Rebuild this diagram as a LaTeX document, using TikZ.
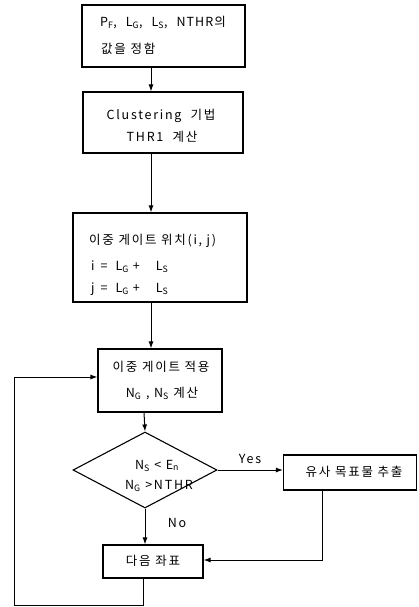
\documentclass[tikz,border=0pt]{standalone}
\usepackage{fontspec}
\newfontfamily\kr[LetterSpace=14]{Noto Sans CJK KR}
\usetikzlibrary{arrows.meta,shapes.geometric}
\begin{document}
\begin{tikzpicture}[x=1pt,y=-1pt,
  box/.style={draw,line width=1.1pt,inner sep=0pt,rectangle},
  txt/.style={inner sep=0pt,font=\kr\fontsize{12.5}{14}\selectfont},
  conn/.style={line width=1pt,-{Latex[length=7pt,width=5pt]}},
  plain/.style={line width=0.9pt}]
\useasboundingbox (0,0) rectangle (418,607);
% boxes
\node[box,minimum width=163pt,minimum height=62pt] (b1) at (163.5,36) {};
\node[box,minimum width=160pt,minimum height=61pt] (b2) at (163,122.5) {};
\node[box,minimum width=174pt,minimum height=89pt] (b3) at (160,257.5) {};
\node[box,minimum width=124pt,minimum height=63pt] (b4) at (160,380.5) {};
\node[draw,line width=1.1pt,diamond,inner sep=0pt,minimum width=144pt,minimum height=76pt] (dia) at (145,470) {};
\node[box,minimum width=133pt,minimum height=35pt] (res) at (350,472.5) {};
\node[box,minimum width=100pt,minimum height=33pt] (nxt) at (153,561.5) {};
% texts
\node[txt,anchor=mid west] (t1a) at (100,24) {P\textsubscript{F},\hspace{9pt}L\textsubscript{G},\hspace{9pt}L\textsubscript{S},\hspace{9pt}N\hspace{1pt}T\hspace{1pt}H\hspace{1pt}R\hspace{1pt}의};
\node[txt,anchor=mid west] (t1b) at (101,51) {값을 정함};
\node[txt,anchor=mid] (t2a) at (161,117) {Clustering~~기법};
\node[txt,anchor=mid] (t2b) at (162,139) {THR1~~계산};
\node[txt,anchor=mid west] (t3a) at (89,242) {이중 게이트 위치(i, j)};
\node[txt,anchor=mid west] (t3b) at (91,268) {i\hspace{6pt}=\hspace{8pt}L\textsubscript{G}\hspace{4pt}+\hspace{16pt}L\textsubscript{S}};
\node[txt,anchor=mid west] (t3c) at (91,290) {j\hspace{6pt}=\hspace{8pt}L\textsubscript{G}\hspace{4pt}+\hspace{16pt}L\textsubscript{S}};
\node[txt,anchor=mid] (t4a) at (161,369) {이중 게이트 적용};
\node[txt,anchor=mid] (t4b) at (162,395) {N\textsubscript{G} , N\textsubscript{S} 계산};
\node[txt,anchor=mid] (td1) at (157,467) {N\textsubscript{S} < E\textsubscript{n}};
\node[txt,anchor=mid] (td2) at (159,487) {N\textsubscript{G} >NTHR};
\node[txt,anchor=mid] (tres) at (354,474) {유사 목표물 추출};
\node[txt,anchor=mid] (tnxt) at (153,563) {다음 좌표};
\node[txt,anchor=mid] (yes) at (250,461) {Yes};
\node[txt,anchor=mid] (no) at (177,525) {No};
% helper coordinates
\coordinate (ax) at (151,0);
\coordinate (dx) at (144,0);
\coordinate (rx) at (322,0);
\coordinate (c1) at (322,560);
\coordinate (l1) at (143,605);
\coordinate (l2) at (14,605);
\coordinate (l3) at (14,377);
% connectors
\draw[conn] (b1.south -| ax) -- (b2.north -| ax);
\draw[conn] (b2.south -| ax) -- (b3.north -| ax);
\draw[conn] (b3.south -| ax) -- (b4.north -| ax);
\draw[conn] (b4.south -| dx) -- (dia.north);
\draw[conn] (dia.east) -- (dia.east -| res.west);
\draw[conn] (dia.south) -- (nxt.north -| dia.south);
\draw[conn] (res.south -| rx) -- (c1) -- (c1 -| nxt.east);
\draw[conn] (nxt.south -| l1) -- (l1) -- (l2) -- (l3) -- (l3 -| b4.west);
\end{tikzpicture}
\end{document}
